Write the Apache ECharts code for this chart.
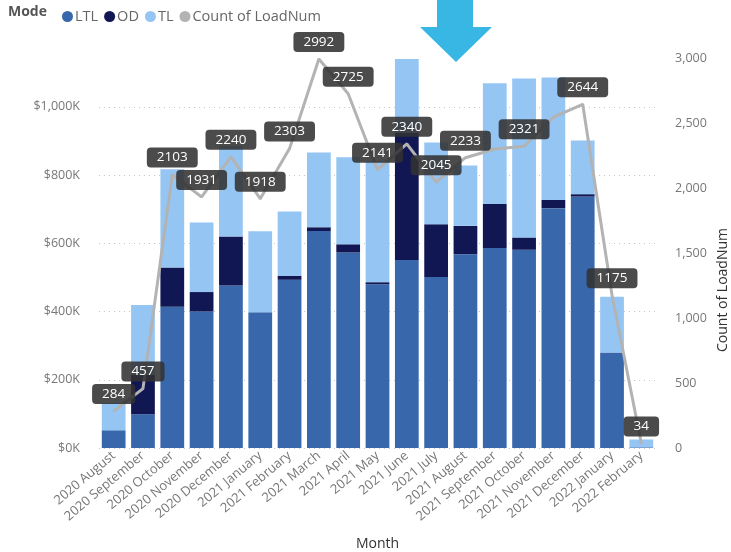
<!DOCTYPE html>
<html>
<head>
<meta charset="utf-8">
<script src="https://cdn.jsdelivr.net/npm/echarts@6/dist/echarts.min.js"></script>
<style>
  html, body { margin:0; padding:0; background:#fff; }
  #chart     { width:731px; height:552px; }
</style>
</head>
<body>
<div id="chart"></div>
<script>
// months on the x axis
const months = [
  '2020 August','2020 September','2020 October','2020 November','2020 December',
  '2021 January','2021 February','2021 March','2021 April','2021 May','2021 June',
  '2021 July','2021 August','2021 September','2021 October','2021 November',
  '2021 December','2022 January','2022 February'
]

// stacked spend by mode ($)
const ltl = [52000,99000,414000,400000,476000,398000,493000,636000,573000,480000,551000,501000,568000,586000,581000,703000,737000,280000,2000]
const od  = [0,115000,115000,57000,144000,0,12000,11000,24000,6000,372000,155000,83000,129000,36000,24000,7000,0,0]
const tl  = [80000,205000,288000,204000,265000,237000,188000,219000,255000,354000,217000,239000,177000,354000,466000,359000,157000,163000,23000]

// count of loads (right axis)
const loads = [284,457,2103,1931,2240,1918,2303,2992,2725,2141,2340,2045,2233,2300,2321,2545,2644,1175,34]
// months whose data label is hidden in the original (overlap)
const hiddenLabels = ['2021 September','2021 November']

const font = '"Segoe UI", "Open Sans", sans-serif'

const chart = echarts.init(document.getElementById('chart'))

chart.setOption({
  animation: false,
  textStyle: { fontFamily: font },
  grid: { left:99, right:75, top:58, bottom:104, outerBoundsMode:'none', containLabel:false },
  legend: {
    left: 57, top: 4,
    icon: 'circle', itemWidth: 11, itemHeight: 11, itemGap: 6,
    textStyle: { color:'#666', fontSize:14.5, fontFamily:font, padding:[0,0,0,-3] },
    data: ['LTL','OD','TL','Count of LoadNum']
  },
  graphic: [
    { type:'text', left:8, top:5,
      style:{ text:'Mode', fill:'#555', font:'bold 14px ' + font } },
    { type:'text', x:723, y:290, rotation:Math.PI/2,
      style:{ text:'Count of LoadNum', fill:'#333', font:'14px ' + font,
              textAlign:'center', textVerticalAlign:'middle' } },
    // blue down arrow overlay
    { type:'polygon', z:100,
      shape:{ points:[[437,0],[473,0],[473,27],[492,27],[456,62],[420,27],[437,27]] },
      style:{ fill:'#38B6E4' } }
  ],
  xAxis: {
    type: 'category',
    data: months,
    name: 'Month',
    nameLocation: 'middle',
    nameGap: 89,
    nameTextStyle: { color:'#333', fontSize:14 },
    axisLine: { show:false },
    axisTick: { show:false },
    axisLabel: { rotate:40, color:'#777', fontSize:13, margin:6, interval:0 }
  },
  yAxis: [
    {
      type: 'value',
      min: 0, max: 1143000, interval: 200000,
      axisLabel: {
        color:'#777', fontSize:12.5, margin:19, showMaxLabel:false,
        formatter: v => '$' + (v/1000).toLocaleString('en-US') + 'K'
      },
      splitLine: { showMaxLine:false, lineStyle:{ color:'#c8c8c8', type:[1,4], width:1 } }
    },
    {
      type: 'value',
      min: 0, max: 3000, interval: 500,
      axisLabel: { color:'#777', fontSize:12.5, margin:19,
                   formatter: v => v.toLocaleString('en-US') },
      splitLine: { show:false }
    }
  ],
  series: [
    { name:'LTL', type:'bar', stack:'mode', barWidth:'81%', data:ltl,
      itemStyle:{ color:'#3867AC' } },
    { name:'OD',  type:'bar', stack:'mode', barWidth:'81%', data:od,
      itemStyle:{ color:'#111752' } },
    { name:'TL',  type:'bar', stack:'mode', barWidth:'81%', data:tl,
      itemStyle:{ color:'#94C5F3' } },
    {
      name:'Count of LoadNum', type:'line', yAxisIndex:1, z:10,
      data: loads.map((v,i) => hiddenLabels.includes(months[i]) ? { value:v, label:{ show:false } } : v),
      symbol:'circle', symbolSize:2,
      itemStyle:{ color:'#B3B3B3' },
      lineStyle:{ color:'#B3B3B3', width:3 },
      label: {
        show:true, position:'top', distance:6,
        color:'#fff', fontSize:13.5,
        backgroundColor:'rgba(50,50,50,0.88)', borderRadius:4,
        padding:[3,10]
      }
    }
  ]
})
</script>
</body>
</html>
